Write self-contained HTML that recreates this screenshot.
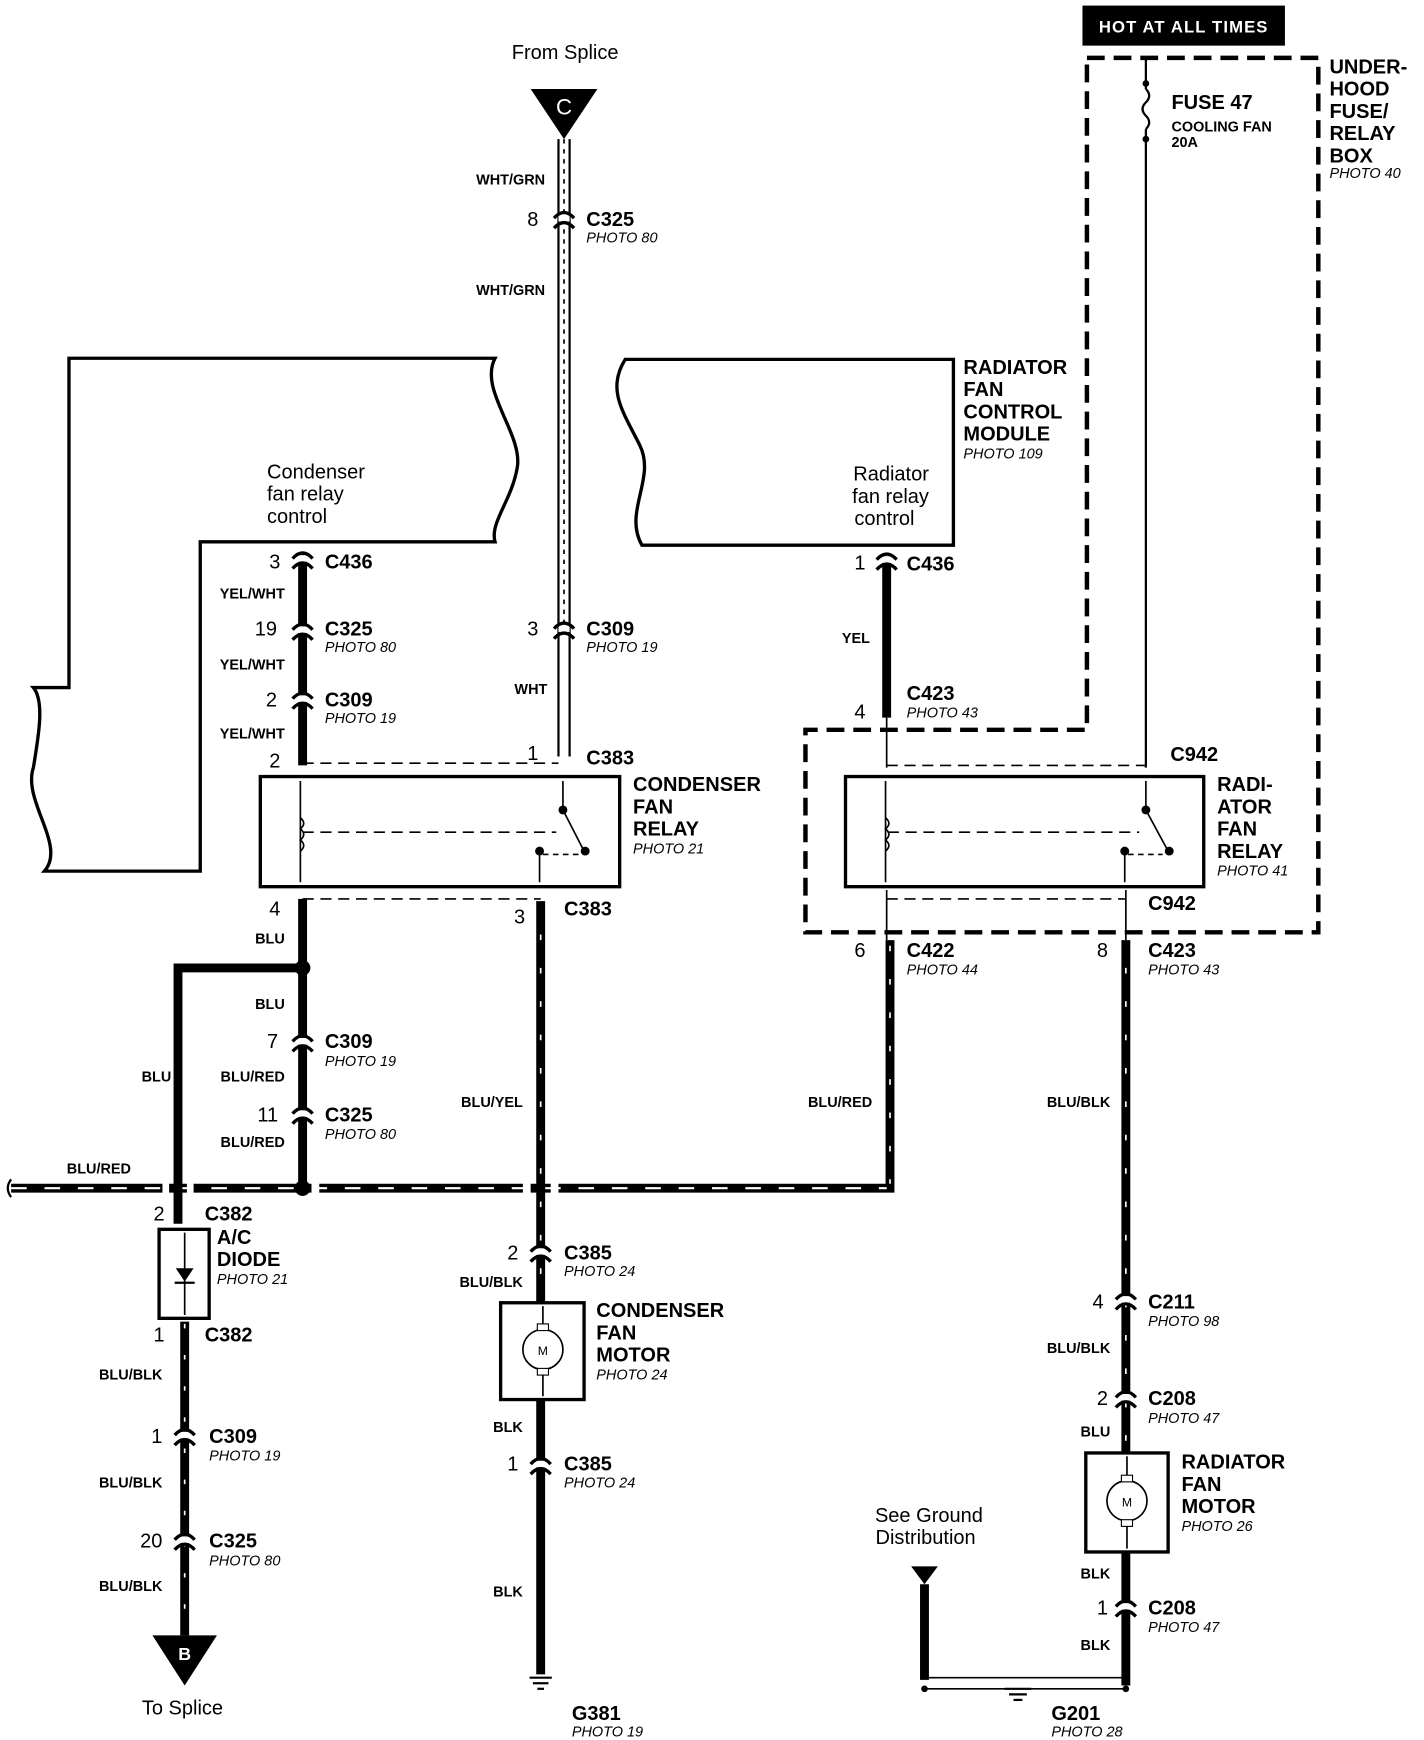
<!DOCTYPE html>
<html><head><meta charset="utf-8"><style>
html,body{margin:0;padding:0;background:#fff;width:1424px;height:1740px;overflow:hidden}
svg{display:block}
text{font-family:"Liberation Sans",sans-serif;fill:#000}
.b{font-weight:bold;font-size:18px}
.s{font-weight:bold;font-size:13px}
.p{font-style:italic;font-size:13px}
.n{font-size:18px}
</style></head><body>
<svg width="1424" height="1740" viewBox="0 0 1280 1564" xmlns="http://www.w3.org/2000/svg">
<defs>
<g id="cn"><rect x="-5" y="-5" width="10" height="6" fill="#fff"/><path d="M-9,-2 Q0,-12 9,-2 M-9,7 Q0,-3 9,7" stroke="#000" stroke-width="3" fill="none"/></g>
</defs>
<text x="508" y="53" class="n" text-anchor="middle">From Splice</text>
<polygon points="477,80 537,80 507,125" fill="#000"/>
<text x="507" y="103" fill="#fff" style="fill:#fff;font-size:20px" text-anchor="middle">C</text>
<rect x="973" y="5" width="182" height="36" fill="#000"/>
<text x="1064" y="29" text-anchor="middle" style="fill:#fff;font-size:15px;font-weight:bold;letter-spacing:1px">HOT AT ALL TIMES</text>
<path d="M977,52 H1185 V838 H724 V656 H977 Z" fill="none" stroke="#000" stroke-width="4" stroke-dasharray="16,8"/>
<text x="1195" y="66" class="b">UNDER-</text><text x="1195" y="86" class="b">HOOD</text><text x="1195" y="106" class="b">FUSE/</text><text x="1195" y="126" class="b">RELAY</text><text x="1195" y="146" class="b">BOX</text>
<text x="1195" y="160" class="p">PHOTO 40</text>
<line x1="1030" y1="52" x2="1030" y2="80" stroke="#000" stroke-width="2"/>
<path d="M1030,80 q6,6 0,12 q-6,6 0,12 q6,6 0,12" fill="none" stroke="#000" stroke-width="2"/>
<circle cx="1030" cy="75" r="3"/><circle cx="1030" cy="125" r="3"/>
<line x1="1030" y1="116" x2="1030" y2="690" stroke="#000" stroke-width="2"/>
<text x="1053" y="98" class="b">FUSE 47</text><text x="1053" y="118" class="s">COOLING FAN</text><text x="1053" y="132" class="s">20A</text>
<line x1="502" y1="125" x2="502" y2="680" stroke="#000" stroke-width="2"/>
<line x1="512" y1="125" x2="512" y2="680" stroke="#000" stroke-width="2"/>
<line x1="507" y1="125" x2="507" y2="560" stroke="#000" stroke-width="1.5" stroke-dasharray="4,5"/>
<text x="490" y="166" class="s" text-anchor="end">WHT/GRN</text>
<text x="490" y="265" class="s" text-anchor="end">WHT/GRN</text>
<use href="#cn" x="507" y="198"/><text x="484" y="203" class="n" text-anchor="end">8</text>
<text x="527" y="203" class="b">C325</text><text x="527" y="218" class="p">PHOTO 80</text>
<use href="#cn" x="507" y="567"/><text x="484" y="571" class="n" text-anchor="end">3</text>
<text x="527" y="571" class="b">C309</text><text x="527" y="586" class="p">PHOTO 19</text>
<text x="492" y="624" class="s" text-anchor="end">WHT</text>
<path d="M62,322 H445 C430,350 470,390 465,420 C460,450 440,470 445,487 H180 V783 H40 C60,760 20,720 30,690 C35,660 40,630 30,618 H62 Z" fill="none" stroke="#000" stroke-width="3"/>
<text x="240" y="430" class="n">Condenser</text><text x="240" y="450" class="n">fan relay</text><text x="240" y="470" class="n">control</text>
<path d="M562,323 H857 V490 H577 C560,460 590,430 575,400 C560,370 545,350 562,323 Z" fill="none" stroke="#000" stroke-width="3"/>
<text x="835" y="432" class="n" text-anchor="end">Radiator</text><text x="835" y="452" class="n" text-anchor="end">fan relay</text><text x="822" y="472" class="n" text-anchor="end">control</text>
<text x="866" y="336" class="b">RADIATOR</text><text x="866" y="356" class="b">FAN</text><text x="866" y="376" class="b">CONTROL</text><text x="866" y="396" class="b">MODULE</text><text x="866" y="412" class="p">PHOTO 109</text>
<line x1="272" y1="497" x2="272" y2="688" stroke="#000" stroke-width="8"/>
<use href="#cn" x="272" y="504"/><text x="252" y="511" class="n" text-anchor="end">3</text><text x="292" y="511" class="b">C436</text>
<text x="256" y="538" class="s" text-anchor="end">YEL/WHT</text>
<use href="#cn" x="272" y="568"/><text x="249" y="571" class="n" text-anchor="end">19</text><text x="292" y="571" class="b">C325</text><text x="292" y="586" class="p">PHOTO 80</text>
<text x="256" y="602" class="s" text-anchor="end">YEL/WHT</text>
<use href="#cn" x="272" y="630"/><text x="249" y="635" class="n" text-anchor="end">2</text><text x="292" y="635" class="b">C309</text><text x="292" y="650" class="p">PHOTO 19</text>
<text x="256" y="664" class="s" text-anchor="end">YEL/WHT</text>
<text x="252" y="690" class="n" text-anchor="end">2</text>
<line x1="272" y1="686" x2="502" y2="686" stroke="#000" stroke-width="1.5" stroke-dasharray="10,6"/>
<text x="484" y="683" class="n" text-anchor="end">1</text><text x="527" y="687" class="b">C383</text>
<rect x="234" y="698" width="323" height="99" fill="none" stroke="#000" stroke-width="3"/>
<line x1="270" y1="702" x2="270" y2="793" stroke="#000" stroke-width="1.5"/>
<path d="M270,735 q6,5 0,10 q6,5 0,10 q6,5 0,10" fill="none" stroke="#000" stroke-width="1.5"/>
<line x1="272" y1="748" x2="500" y2="748" stroke="#000" stroke-width="1.5" stroke-dasharray="10,6"/>
<line x1="506" y1="702" x2="506" y2="728" stroke="#000" stroke-width="1.5"/><circle cx="506" cy="728" r="4"/>
<line x1="506" y1="728" x2="525" y2="765" stroke="#000" stroke-width="1.5"/><circle cx="526" cy="765" r="4"/>
<circle cx="485" cy="765" r="4"/><line x1="485" y1="765" x2="485" y2="793" stroke="#000" stroke-width="1.5"/>
<line x1="488" y1="768" x2="520" y2="768" stroke="#000" stroke-width="1.5" stroke-dasharray="5,4"/>
<text x="569" y="711" class="b">CONDENSER</text><text x="569" y="731" class="b">FAN</text><text x="569" y="751" class="b">RELAY</text><text x="569" y="767" class="p">PHOTO 21</text>
<line x1="272" y1="808" x2="486" y2="808" stroke="#000" stroke-width="1.5" stroke-dasharray="10,6"/>
<text x="252" y="823" class="n" text-anchor="end">4</text><text x="472" y="830" class="n" text-anchor="end">3</text><text x="507" y="823" class="b">C383</text>
<!-- BLU/RED horizontal -->
<path d="M10,1068 H800 V845" fill="none" stroke="#000" stroke-width="8"/>
<line x1="10" y1="1068" x2="797" y2="1068" stroke="#fff" stroke-width="2" stroke-dasharray="14,16"/>
<line x1="800" y1="850" x2="800" y2="1064" stroke="#fff" stroke-width="1.5" stroke-dasharray="5,25"/>
<rect x="146" y="1062" width="6" height="12" fill="#fff"/><rect x="168" y="1062" width="6" height="12" fill="#fff"/>
<rect x="280" y="1062" width="7" height="12" fill="#fff"/>
<rect x="470" y="1062" width="7" height="12" fill="#fff"/><rect x="495" y="1062" width="7" height="12" fill="#fff"/>
<path d="M10,1060 q-6,8 0,16" fill="none" stroke="#000" stroke-width="2"/>
<text x="60" y="1055" class="s">BLU/RED</text>
<!-- left lower wire -->
<line x1="272" y1="808" x2="272" y2="1068" stroke="#000" stroke-width="8"/>
<circle cx="272" cy="870" r="7"/><circle cx="272" cy="1068" r="7"/>
<text x="256" y="848" class="s" text-anchor="end">BLU</text>
<path d="M272,870 H160 V1100" fill="none" stroke="#000" stroke-width="8"/>
<text x="256" y="907" class="s" text-anchor="end">BLU</text>
<text x="154" y="972" class="s" text-anchor="end">BLU</text>
<use href="#cn" x="272" y="938"/><text x="250" y="942" class="n" text-anchor="end">7</text><text x="292" y="942" class="b">C309</text><text x="292" y="958" class="p">PHOTO 19</text>
<text x="256" y="972" class="s" text-anchor="end">BLU/RED</text>
<use href="#cn" x="272" y="1003"/><text x="250" y="1008" class="n" text-anchor="end">11</text><text x="292" y="1008" class="b">C325</text><text x="292" y="1024" class="p">PHOTO 80</text>
<text x="256" y="1031" class="s" text-anchor="end">BLU/RED</text>
<text x="148" y="1097" class="n" text-anchor="end">2</text><text x="184" y="1097" class="b">C382</text>
<rect x="143" y="1105" width="45" height="80" fill="none" stroke="#000" stroke-width="3"/>
<line x1="166" y1="1108" x2="166" y2="1182" stroke="#000" stroke-width="1.5"/>
<polygon points="158,1140 174,1140 166,1152" fill="#000"/><line x1="157" y1="1153" x2="175" y2="1153" stroke="#000" stroke-width="2"/>
<text x="195" y="1118" class="b">A/C</text><text x="195" y="1138" class="b">DIODE</text><text x="195" y="1154" class="p">PHOTO 21</text>
<text x="148" y="1206" class="n" text-anchor="end">1</text><text x="184" y="1206" class="b">C382</text>
<line x1="166" y1="1188" x2="166" y2="1470" stroke="#000" stroke-width="8"/>
<line x1="166" y1="1190" x2="166" y2="1470" stroke="#fff" stroke-width="1.5" stroke-dasharray="4,24"/>
<text x="146" y="1240" class="s" text-anchor="end">BLU/BLK</text>
<use href="#cn" x="166" y="1292"/><text x="146" y="1297" class="n" text-anchor="end">1</text><text x="188" y="1297" class="b">C309</text><text x="188" y="1313" class="p">PHOTO 19</text>
<text x="146" y="1337" class="s" text-anchor="end">BLU/BLK</text>
<use href="#cn" x="166" y="1386"/><text x="146" y="1391" class="n" text-anchor="end">20</text><text x="188" y="1391" class="b">C325</text><text x="188" y="1407" class="p">PHOTO 80</text>
<text x="146" y="1430" class="s" text-anchor="end">BLU/BLK</text>
<polygon points="137,1470 195,1470 166,1515" fill="#000"/>
<text x="166" y="1492" text-anchor="middle" style="fill:#fff;font-size:16px;font-weight:bold">B</text>
<text x="164" y="1541" class="n" text-anchor="middle">To Splice</text>
<line x1="486" y1="810" x2="486" y2="1170" stroke="#000" stroke-width="8"/>
<line x1="486" y1="840" x2="486" y2="1170" stroke="#fff" stroke-width="1.5" stroke-dasharray="5,25"/>
<text x="470" y="995" class="s" text-anchor="end">BLU/YEL</text>
<use href="#cn" x="486" y="1127"/><text x="466" y="1132" class="n" text-anchor="end">2</text><text x="507" y="1132" class="b">C385</text><text x="507" y="1147" class="p">PHOTO 24</text>
<text x="470" y="1157" class="s" text-anchor="end">BLU/BLK</text>
<rect x="450" y="1171" width="75" height="87" fill="none" stroke="#000" stroke-width="3"/>
<circle cx="488" cy="1213" r="18" fill="none" stroke="#000" stroke-width="1.5"/><text x="488" y="1218" text-anchor="middle" style="font-size:11px">M</text>
<line x1="488" y1="1174" x2="488" y2="1195" stroke="#000" stroke-width="1.5"/><line x1="488" y1="1231" x2="488" y2="1255" stroke="#000" stroke-width="1.5"/>
<rect x="483" y="1190" width="10" height="6" fill="#fff" stroke="#000"/><rect x="483" y="1230" width="10" height="6" fill="#fff" stroke="#000"/>
<text x="536" y="1184" class="b">CONDENSER</text><text x="536" y="1204" class="b">FAN</text><text x="536" y="1224" class="b">MOTOR</text><text x="536" y="1240" class="p">PHOTO 24</text>
<line x1="486" y1="1258" x2="486" y2="1505" stroke="#000" stroke-width="8"/>
<text x="470" y="1287" class="s" text-anchor="end">BLK</text>
<use href="#cn" x="486" y="1318"/><text x="466" y="1322" class="n" text-anchor="end">1</text><text x="507" y="1322" class="b">C385</text><text x="507" y="1337" class="p">PHOTO 24</text>
<text x="470" y="1435" class="s" text-anchor="end">BLK</text>
<line x1="476" y1="1508" x2="496" y2="1508" stroke="#000" stroke-width="2"/><line x1="479" y1="1513" x2="493" y2="1513" stroke="#000" stroke-width="2"/><line x1="483" y1="1518" x2="489" y2="1518" stroke="#000" stroke-width="2"/>
<text x="514" y="1546" class="b">G381</text><text x="514" y="1561" class="p">PHOTO 19</text>
<line x1="797" y1="500" x2="797" y2="645" stroke="#000" stroke-width="8"/>
<use href="#cn" x="797" y="505"/><text x="778" y="512" class="n" text-anchor="end">1</text><text x="815" y="513" class="b">C436</text>
<text x="782" y="578" class="s" text-anchor="end">YEL</text>
<text x="778" y="646" class="n" text-anchor="end">4</text><text x="815" y="629" class="b">C423</text><text x="815" y="645" class="p">PHOTO 43</text>
<line x1="797" y1="645" x2="797" y2="690" stroke="#000" stroke-width="1.5"/>
<line x1="797" y1="688" x2="1030" y2="688" stroke="#000" stroke-width="1.5" stroke-dasharray="10,6"/>
<text x="1052" y="684" class="b">C942</text>
<rect x="760" y="698" width="322" height="99" fill="none" stroke="#000" stroke-width="3"/>
<line x1="796" y1="702" x2="796" y2="793" stroke="#000" stroke-width="1.5"/>
<path d="M796,735 q6,5 0,10 q6,5 0,10 q6,5 0,10" fill="none" stroke="#000" stroke-width="1.5"/>
<line x1="798" y1="748" x2="1024" y2="748" stroke="#000" stroke-width="1.5" stroke-dasharray="10,6"/>
<line x1="1030" y1="702" x2="1030" y2="728" stroke="#000" stroke-width="1.5"/><circle cx="1030" cy="728" r="4"/>
<line x1="1030" y1="728" x2="1050" y2="765" stroke="#000" stroke-width="1.5"/><circle cx="1051" cy="765" r="4"/>
<circle cx="1011" cy="765" r="4"/><line x1="1011" y1="765" x2="1011" y2="793" stroke="#000" stroke-width="1.5"/>
<line x1="1014" y1="768" x2="1045" y2="768" stroke="#000" stroke-width="1.5" stroke-dasharray="5,4"/>
<text x="1094" y="711" class="b">RADI-</text><text x="1094" y="731" class="b">ATOR</text><text x="1094" y="751" class="b">FAN</text><text x="1094" y="771" class="b">RELAY</text><text x="1094" y="787" class="p">PHOTO 41</text>
<line x1="797" y1="800" x2="797" y2="845" stroke="#000" stroke-width="1.5"/><line x1="1012" y1="800" x2="1012" y2="845" stroke="#000" stroke-width="1.5"/>
<line x1="797" y1="808" x2="1012" y2="808" stroke="#000" stroke-width="1.5" stroke-dasharray="10,6"/>
<text x="1032" y="818" class="b">C942</text>
<text x="778" y="860" class="n" text-anchor="end">6</text><text x="815" y="860" class="b">C422</text><text x="815" y="876" class="p">PHOTO 44</text>
<text x="784" y="995" class="s" text-anchor="end">BLU/RED</text>
<line x1="1012" y1="845" x2="1012" y2="1305" stroke="#000" stroke-width="8"/>
<line x1="1012" y1="870" x2="1012" y2="1305" stroke="#fff" stroke-width="1.5" stroke-dasharray="5,25"/>
<text x="996" y="860" class="n" text-anchor="end">8</text><text x="1032" y="860" class="b">C423</text><text x="1032" y="876" class="p">PHOTO 43</text>
<text x="998" y="995" class="s" text-anchor="end">BLU/BLK</text>
<use href="#cn" x="1012" y="1170"/><text x="992" y="1176" class="n" text-anchor="end">4</text><text x="1032" y="1176" class="b">C211</text><text x="1032" y="1192" class="p">PHOTO 98</text>
<text x="998" y="1216" class="s" text-anchor="end">BLU/BLK</text>
<use href="#cn" x="1012" y="1258"/><text x="996" y="1263" class="n" text-anchor="end">2</text><text x="1032" y="1263" class="b">C208</text><text x="1032" y="1279" class="p">PHOTO 47</text>
<text x="998" y="1291" class="s" text-anchor="end">BLU</text>
<rect x="976" y="1306" width="74" height="89" fill="none" stroke="#000" stroke-width="3"/>
<circle cx="1013" cy="1349" r="18" fill="none" stroke="#000" stroke-width="1.5"/><text x="1013" y="1354" text-anchor="middle" style="font-size:11px">M</text>
<line x1="1013" y1="1309" x2="1013" y2="1331" stroke="#000" stroke-width="1.5"/><line x1="1013" y1="1367" x2="1013" y2="1392" stroke="#000" stroke-width="1.5"/>
<rect x="1008" y="1326" width="10" height="6" fill="#fff" stroke="#000"/><rect x="1008" y="1366" width="10" height="6" fill="#fff" stroke="#000"/>
<text x="1062" y="1320" class="b">RADIATOR</text><text x="1062" y="1340" class="b">FAN</text><text x="1062" y="1360" class="b">MOTOR</text><text x="1062" y="1376" class="p">PHOTO 26</text>
<line x1="1012" y1="1395" x2="1012" y2="1515" stroke="#000" stroke-width="8"/>
<text x="998" y="1419" class="s" text-anchor="end">BLK</text>
<use href="#cn" x="1012" y="1446"/><text x="996" y="1451" class="n" text-anchor="end">1</text><text x="1032" y="1451" class="b">C208</text><text x="1032" y="1467" class="p">PHOTO 47</text>
<text x="998" y="1483" class="s" text-anchor="end">BLK</text>
<text x="835" y="1368" class="n" text-anchor="middle">See Ground</text><text x="832" y="1388" class="n" text-anchor="middle">Distribution</text>
<polygon points="819,1408 843,1408 831,1424" fill="#000"/>
<line x1="831" y1="1424" x2="831" y2="1510" stroke="#000" stroke-width="8"/>
<path d="M831,1508 H1012" fill="none" stroke="#000" stroke-width="1.5"/><path d="M831,1518 H1012" fill="none" stroke="#000" stroke-width="1.5"/>
<circle cx="831" cy="1518" r="3"/><circle cx="1012" cy="1518" r="3"/>
<line x1="903" y1="1518" x2="927" y2="1518" stroke="#000" stroke-width="2"/><line x1="907" y1="1523" x2="923" y2="1523" stroke="#000" stroke-width="2"/><line x1="911" y1="1528" x2="919" y2="1528" stroke="#000" stroke-width="2"/>
<text x="945" y="1546" class="b">G201</text><text x="945" y="1561" class="p">PHOTO 28</text>
</svg>
</body></html>
